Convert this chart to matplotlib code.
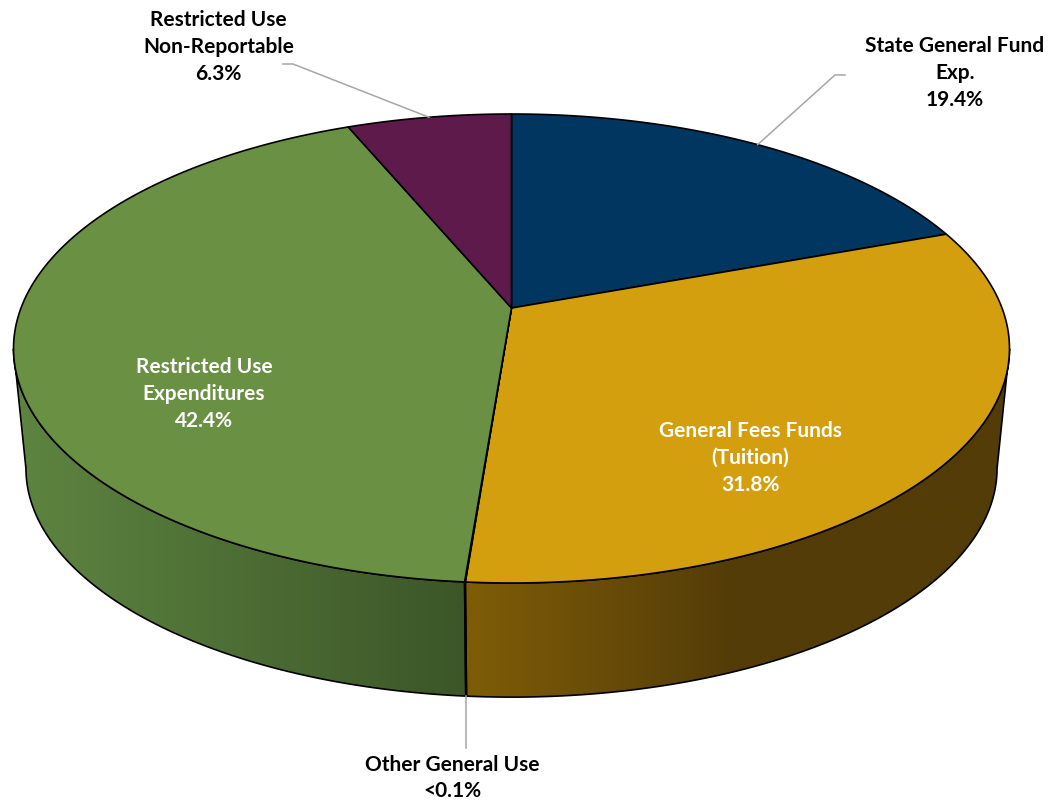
import numpy as np
import matplotlib
matplotlib.use("Agg")
import matplotlib.pyplot as plt
from matplotlib.colors import LinearSegmentedColormap
from matplotlib.patches import Polygon

plt.rcParams['font.family'] = ['Lato', 'DejaVu Sans']

names = ["State General Fund\nExp.", "General Fees Funds\n(Tuition)", "Other General Use",
         "Restricted Use\nExpenditures", "Restricted Use\nNon-Reportable"]
values = [19.4, 31.8, 0.02, 42.4, 6.3]
shown = ["19.4%", "31.8%", "<0.1%", "42.4%", "6.3%"]
colors = ["#00365f", "#d49f0e", "#4f6228", "#6a9044", "#5e1a4b"]

# perspective disc, worked out from the picture
k = 0.1727
a0, b0 = 490.5, 227.5
cx = 511.5
top_cy = 309


def project(deg, scale=1.0, cy=top_cy):
    # deg runs clockwise from the top of the pie
    t = np.radians(deg)
    u, v = np.sin(t), np.cos(t)
    d = 1 + k * v
    return cx + scale * a0 * u / d, cy - scale * b0 * v / d


def outline(a, b, scale=1.0, cy=top_cy):
    t = np.linspace(a, b, max(int(abs(b - a) * 2), 2))
    x, y = project(t, scale, cy)
    return np.column_stack([x, y])


fig = plt.figure(figsize=(10.5, 8.04), dpi=100)
ax = fig.add_axes([0, 0, 1, 1])

side_scale, side_cy = 0.975, 430
vis_a, vis_b = 100, 260
edges = np.concatenate([[0], np.cumsum(values)]) / sum(values) * 360

cmaps = [None,
         LinearSegmentedColormap.from_list("gold", [(0, "#7f5d08"), (0.49, "#533c07"), (1, "#533c07")]),
         None,
         LinearSegmentedColormap.from_list("green", [(0, "#5e8541"), (1, "#3c5628")]),
         None]
spans = [None, (466, 1010), None, (10, 466), None]

# side wall
for i in range(len(values)):
    a = max(edges[i], vis_a)
    b = min(edges[i + 1], vis_b)
    if b <= a:
        continue
    poly = np.vstack([outline(a, b), outline(a, b, side_scale, side_cy)[::-1]])
    patch = Polygon(poly, closed=True, fc="none", ec="none")
    ax.add_patch(patch)
    if cmaps[i] is not None:
        grad = np.linspace(0, 1, 256).reshape(1, -1)
        im = ax.imshow(grad, cmap=cmaps[i], extent=[spans[i][0], spans[i][1], 804, 0],
                       aspect="auto", zorder=1)
        im.set_clip_path(patch)
    else:
        patch.set_facecolor(colors[i])
    ax.add_patch(Polygon(poly, closed=True, fc="none", ec="black", lw=1.2, zorder=2))

# top of the pie
for i in range(len(values)):
    poly = np.vstack([[cx, top_cy], outline(edges[i], edges[i + 1])])
    ax.add_patch(Polygon(poly, closed=True, fc=colors[i], ec="black", lw=1.2,
                         joinstyle="round", zorder=3))

# leader lines
mids = (edges[:-1] + edges[1:]) / 2
x0, y0 = project(mids[0])
ax.plot([x0, 835, 845], [y0, 76, 76], color="#a6a6a6", lw=1.1, zorder=4)
x4, y4 = project(mids[4])
ax.plot([x4, 293, 283], [y4, 65, 65], color="#a6a6a6", lw=1.1, zorder=4)
x2, y2 = project(mids[2], side_scale, side_cy)
ax.plot([x2, x2], [y2, 749], color="#a6a6a6", lw=1.1, zorder=4)

# labels
pos = [(955, 73), (750, 458), (452, 778), (204, 394), (218.5, 47)]
text_col = ["black", "white", "black", "white", "black"]
for i in range(len(values)):
    ax.text(pos[i][0], pos[i][1], names[i] + "\n" + shown[i], ha="center", va="center",
            ma="center", fontsize=15, fontweight="bold", color=text_col[i],
            linespacing=1.43, zorder=5)

ax.set_xlim(0, 1050)
ax.set_ylim(804, 0)
ax.axis("off")

fig.savefig("out.png", dpi=100)
